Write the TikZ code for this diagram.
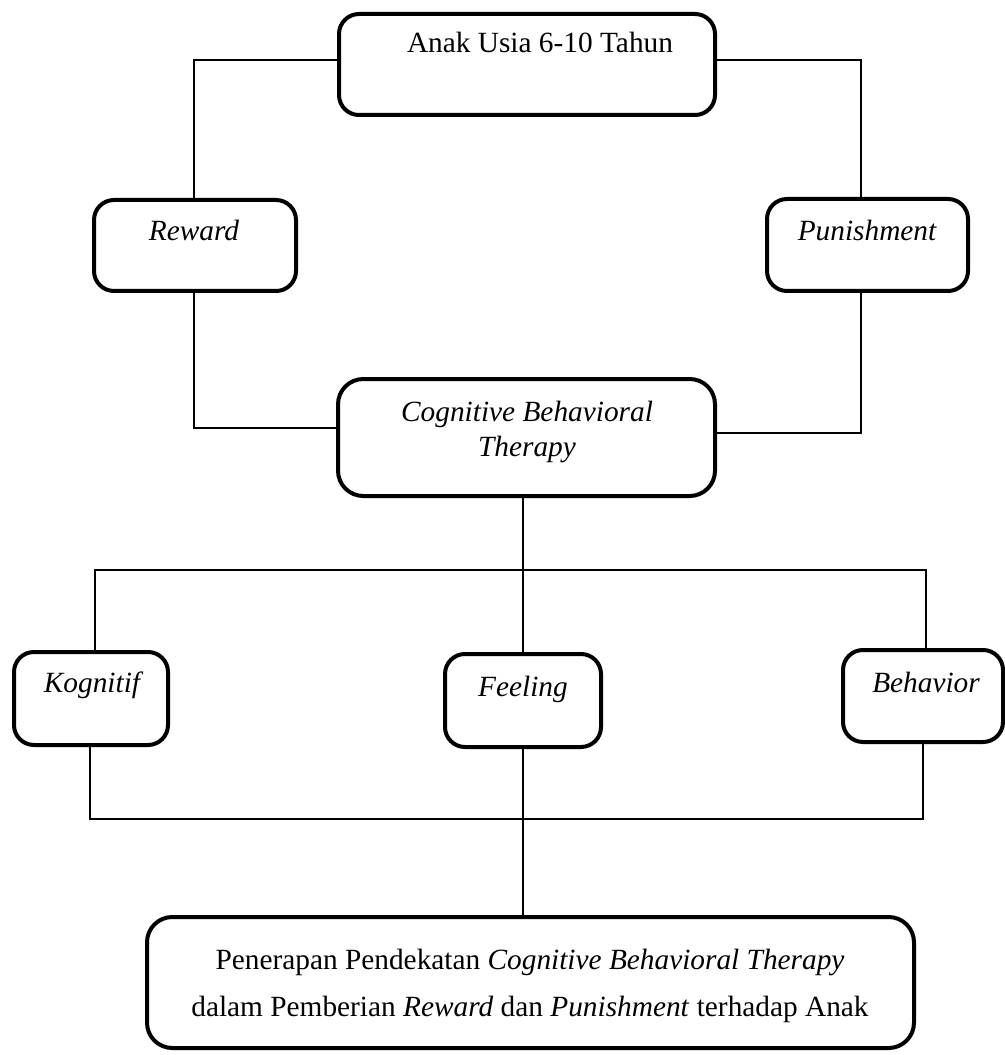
\documentclass[tikz,border=0pt]{standalone}
\usepackage{fontspec}
\setmainfont{Liberation Serif}
\usetikzlibrary{fit}
\tikzset{
  box/.style={draw=black, line width=3pt, rounded corners=15pt, inner sep=0pt},
  bigbox/.style={box, rounded corners=19pt},
  conn/.style={draw=black, line width=1.5pt},
  lbl/.style={inner sep=0pt, anchor=base, font=\fontsize{22}{26}\selectfont},
  ilbl/.style={inner sep=0pt, anchor=base, font=\fontsize{22}{26}\selectfont\itshape},
}
\begin{document}
\begin{tikzpicture}[x=0.75pt,y=-0.75pt]
\fill[white] (0,0) rectangle (1005,1055);
\useasboundingbox (0,0) rectangle (1005,1055);

% boxes
\node[box, fit={(339,14) (715,115)}] (top) {};
\node[box, fit={(94,200) (296,291)}] (rew) {};
\node[box, fit={(767,199) (968,291)}] (pun) {};
\node[bigbox, fit={(338,379) (715,496)}] (cbt) {};
\node[box, fit={(14,652) (168,745)}] (kog) {};
\node[box, fit={(445,654) (601,747)}] (feel) {};
\node[box, fit={(843,650) (1003,742)}] (beh) {};
\node[bigbox, fit={(147,917) (914,1048)}] (bot) {};

% texts
\node[lbl] (ttop) at (540,53) {Anak Usia 6-10 Tahun};
\node[ilbl] (trew) at (194,241) {Reward};
\node[ilbl] (tpun) at (867,241) {Punishment};
\node[ilbl] (tcbt1) at (527,421) {Cognitive Behavioral};
\node[ilbl] (tcbt2) at (527,456) {Therapy};
\node[ilbl] (tkog) at (92,692) {Kognitif};
\node[ilbl] (tfeel) at (523,696) {Feeling};
\node[ilbl] (tbeh) at (926,692) {Behavior};
\node[lbl] (tbot1) at (530,969) {Penerapan Pendekatan \textit{Cognitive Behavioral Therapy}};
\node[lbl] (tbot2) at (530,1016) {dalam Pemberian \textit{Reward} dan \textit{Punishment} terhadap Anak};

% connectors
\coordinate (tl) at (194,60);
\coordinate (tr) at (861,60);
\draw[conn] (tl -| top.west) -- (tl) -- (tl |- rew.north);
\draw[conn] (tr -| top.east) -- (tr) -- (tr |- pun.north);
\coordinate (ml) at (194,428);
\coordinate (mr) at (861,433);
\draw[conn] (ml |- rew.south) -- (ml) -- (ml -| cbt.west);
\draw[conn] (mr |- pun.south) -- (mr) -- (mr -| cbt.east);
\coordinate (hub) at (523,570);
\coordinate (hl) at (95,570);
\coordinate (hr) at (926,570);
\draw[conn] (hub |- cbt.south) -- (hub |- feel.north);
\draw[conn] (hl |- kog.north) -- (hl) -- (hr) -- (hr |- beh.north);
\coordinate (bl) at (90,819);
\coordinate (br) at (923,819);
\draw[conn] (bl |- kog.south) -- (bl) -- (br) -- (br |- beh.south);
\draw[conn] (hub |- feel.south) -- (hub |- bot.north);
\end{tikzpicture}
\end{document}
